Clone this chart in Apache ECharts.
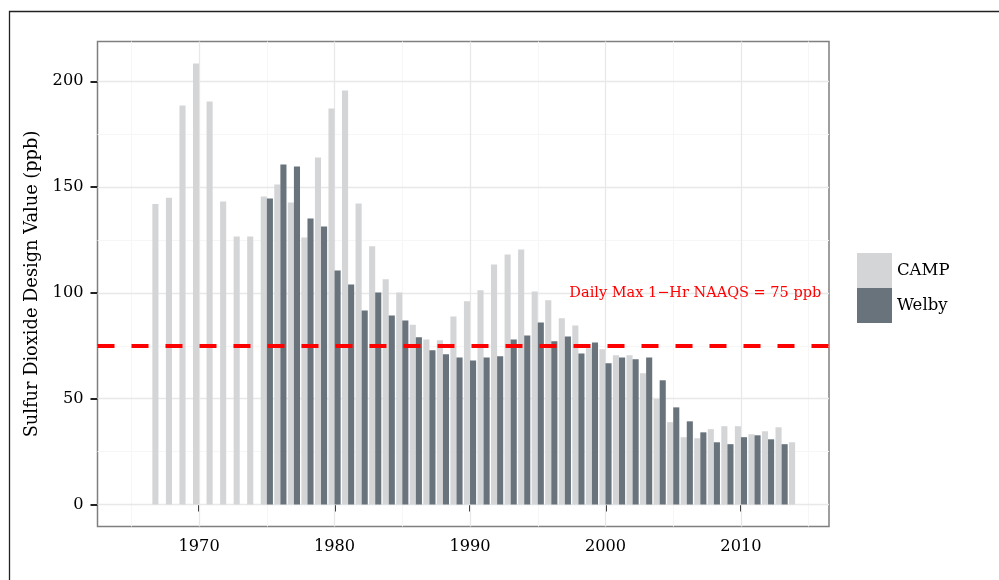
<!DOCTYPE html>
<html><head><meta charset="utf-8">
<script src="https://cdn.jsdelivr.net/npm/echarts@6/dist/echarts.min.js"></script>
<style>html,body{margin:0;padding:0;background:#fff}#c{width:999px;height:580px}</style>
</head><body><div id="c"></div>
<script>
const years = ['1963','1964','1965','1966','1967','1968','1969','1970','1971','1972','1973','1974','1975','1976','1977','1978','1979','1980','1981','1982','1983','1984','1985','1986','1987','1988','1989','1990','1991','1992','1993','1994','1995','1996','1997','1998','1999','2000','2001','2002','2003','2004','2005','2006','2007','2008','2009','2010','2011','2012','2013','2014','2015','2016'];
const campStart = 1967;
const campValues = [142,145,188.5,208.4,190.4,143.2,126.7,126.7,145.6,151.2,142.7,126.2,164,187.1,195.6,142.3,122,106.5,100.2,85,78,77.6,88.9,96,101.2,113.4,118.2,120.5,100.7,96.5,88,84.6,73.8,73.4,70.5,70.5,62,49.9,38.9,31.8,31.3,35.6,37,37,33.2,34.6,36.5,29.4];
const welbyStart = 1975;
const welbyValues = [144.6,160.7,159.7,135.2,131.4,110.6,104,91.7,100.2,89.3,86.9,79,72.9,71,69.5,68.1,69.5,70,78,79.9,86,77.1,79.4,71.4,76.6,66.7,69.5,68.6,69.5,58.7,45.9,39.3,34.1,29.4,28.5,31.8,32.7,30.8,28.5];
const yTicks = [0,50,100,150,200];
const yMinor = [25,75,125,175];
const xMajor = ['1970','1980','1990','2000','2010'];
const xMinor = ['1965','1975','1985','1995','2005','2015'];
const standardValue = 75;
const annotationText = 'Daily Max 1\u2212Hr NAAQS = 75 ppb';
const annotationAt = ['2006', 100];
const seriesNames = ['CAMP','Welby'];

function align(start, vals){
  return years.map(y => { const i = +y - start; return (i >= 0 && i < vals.length) ? vals[i] : null; });
}
const FONT = "'DejaVu Serif', serif";
const majorStyle = {color:'#e8e8e8', width:1.3, type:'solid'};
const minorStyle = {color:'#f6f6f6', width:1, type:'solid'};
const gridLines = [].concat(
  yMinor.map(v => ({yAxis:v, lineStyle:minorStyle})),
  xMinor.map(v => ({xAxis:v, lineStyle:minorStyle})),
  yTicks.map(v => ({yAxis:v, lineStyle:majorStyle})),
  xMajor.map(v => ({xAxis:v, lineStyle:majorStyle}))
);

const chart = echarts.init(document.getElementById('c'), null, {renderer:'canvas'});
chart.setOption({
  animation:false,
  backgroundColor:'#fff',
  graphic:[{type:'rect', shape:{x:9.5, y:11.5, width:1200, height:800}, style:{fill:'none', stroke:'#222', lineWidth:1.3}, z:0}],
  grid:{left:97.5, right:170, top:41.5, bottom:53.5, show:true, borderColor:'#7f7f7f', borderWidth:1.5, backgroundColor:'#fff'},
  legend:{data:seriesNames, orient:'vertical', left:857, top:253, padding:0, itemWidth:35, itemHeight:35, itemGap:0, icon:'rect',
    textStyle:{fontFamily:FONT, fontSize:16.5, color:'#000'}},
  xAxis:{type:'category', data:years, boundaryGap:true,
    axisLine:{show:false},
    axisTick:{show:true, alignWithLabel:true, length:7, interval:(i,v)=>(+v)%10===0, lineStyle:{color:'#222', width:2}},
    axisLabel:{interval:(i,v)=>(+v)%10===0, margin:12, fontFamily:FONT, fontSize:16.2, color:'#000'},
    splitLine:{show:false}},
  yAxis:{type:'value', min:-10.4, max:218.8,
    name:'Sulfur Dioxide Design Value (ppb)', nameLocation:'middle', nameGap:36,
    nameTextStyle:{fontFamily:FONT, fontSize:17.8, color:'#000'},
    axisLine:{show:false},
    axisTick:{show:true, length:7, customValues:yTicks, lineStyle:{color:'#222', width:2}},
    axisLabel:{customValues:yTicks, margin:14, fontFamily:FONT, fontSize:16.2, color:'#000'},
    splitLine:{show:false}},
  series:[
    {name:'_grid', type:'line', data:years.map(()=>null), silent:true, z:1,
      markLine:{silent:true, symbol:'none', z:1, label:{show:false}, data:gridLines}},
    {name:seriesNames[0], type:'bar', data:align(campStart, campValues), barCategoryGap:'10%', barGap:'0%', z:2,
      itemStyle:{color:'#d4d5d7'}},
    {name:seriesNames[1], type:'bar', data:align(welbyStart, welbyValues), barCategoryGap:'10%', barGap:'0%', z:2,
      itemStyle:{color:'#69737b'},
      markLine:{silent:true, symbol:'none', z:5, label:{show:false},
        lineStyle:{color:'#ff0000', width:4, type:[17,17], cap:'butt'},
        data:[{yAxis:standardValue}]},
      markPoint:{silent:true, symbol:'rect', symbolSize:0,
        label:{show:true, position:'inside', offset:[5.5,0], formatter:annotationText, fontFamily:FONT, fontSize:14.5, color:'#ff0000'},
        data:[{coord:annotationAt}]}}
  ]
});
</script></body></html>
